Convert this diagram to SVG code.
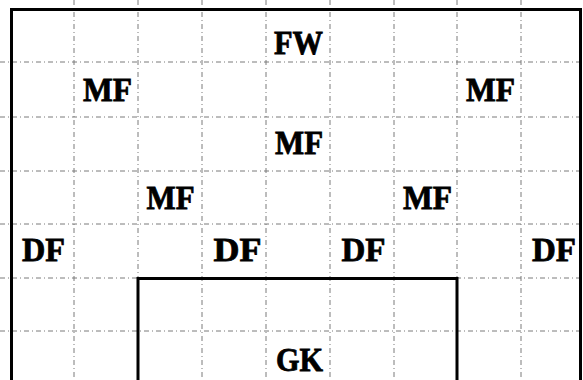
<svg xmlns="http://www.w3.org/2000/svg" width="583" height="380" viewBox="0 0 583 380">
<style>
.grid line{stroke:#7a7a7a;stroke-width:1;stroke-dasharray:5 3 1 3;fill:none}
.frame{stroke:#000;stroke-width:3;fill:none;stroke-linecap:square}
.lbl{font-family:"Liberation Serif","DejaVu Serif",serif;font-weight:bold;font-size:33px;fill:#000;stroke:#000;stroke-width:0.8;text-anchor:middle}
</style>
<rect width="583" height="380" fill="#fff"/>
<g id="grid" class="grid">
<line x1="74" y1="0" x2="74" y2="380"/>
<line x1="138" y1="0" x2="138" y2="380"/>
<line x1="202" y1="0" x2="202" y2="380"/>
<line x1="266" y1="0" x2="266" y2="380"/>
<line x1="330" y1="0" x2="330" y2="380"/>
<line x1="394" y1="0" x2="394" y2="380"/>
<line x1="457" y1="0" x2="457" y2="380"/>
<line x1="521" y1="0" x2="521" y2="380"/>
<line x1="0" y1="62" x2="583" y2="62"/>
<line x1="0" y1="117" x2="583" y2="117"/>
<line x1="0" y1="171" x2="583" y2="171"/>
<line x1="0" y1="224" x2="583" y2="224"/>
<line x1="0" y1="278" x2="583" y2="278"/>
<line x1="0" y1="331" x2="583" y2="331"/>
</g>
<g id="field">
<path class="frame" d="M11.5 381 V9.5 H580.5 V381"/>
<path class="frame" d="M138 381 V278.5 H457 V381"/>
</g>
<g id="connectors"></g>
<g id="fw"><text class="lbl" x="298.5" y="54" textLength="49" lengthAdjust="spacingAndGlyphs">FW</text></g>
<g id="mf-left"><text class="lbl" x="107.5" y="101" textLength="49" lengthAdjust="spacingAndGlyphs">MF</text></g>
<g id="mf-right"><text class="lbl" x="490.5" y="101" textLength="49" lengthAdjust="spacingAndGlyphs">MF</text></g>
<g id="mf-center"><text class="lbl" x="299" y="154" textLength="48" lengthAdjust="spacingAndGlyphs">MF</text></g>
<g id="mf-left-inner"><text class="lbl" x="170.5" y="209" textLength="48" lengthAdjust="spacingAndGlyphs">MF</text></g>
<g id="mf-right-inner"><text class="lbl" x="427.5" y="209" textLength="49" lengthAdjust="spacingAndGlyphs">MF</text></g>
<g id="df-1"><text class="lbl" x="43.5" y="261" textLength="43" lengthAdjust="spacingAndGlyphs">DF</text></g>
<g id="df-2"><text class="lbl" x="237.5" y="261" textLength="48" lengthAdjust="spacingAndGlyphs">DF</text></g>
<g id="df-3"><text class="lbl" x="363.5" y="261" textLength="44" lengthAdjust="spacingAndGlyphs">DF</text></g>
<g id="df-4"><text class="lbl" x="554" y="261" textLength="44" lengthAdjust="spacingAndGlyphs">DF</text></g>
<g id="gk"><text class="lbl" x="299.5" y="371" textLength="47" lengthAdjust="spacingAndGlyphs">GK</text></g>
</svg>
